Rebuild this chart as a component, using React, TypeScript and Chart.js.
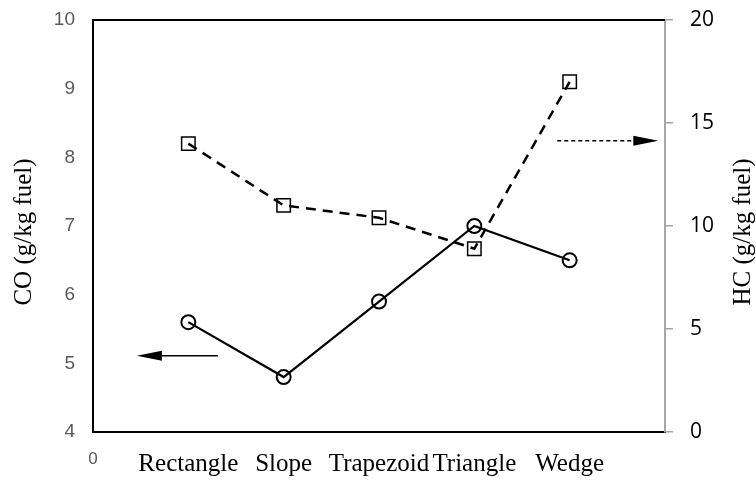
import React, { useEffect, useRef } from "react";
import { Chart, registerables } from "chart.js";

Chart.register(...registerables);

// ---- Data ----
const categories = ["Rectangle", "Slope", "Trapezoid", "Triangle", "Wedge"];
const coValues = [5.6, 4.8, 5.9, 7.0, 6.5]; // CO (g/kg fuel), left axis
const hcValues = [14.0, 11.0, 10.4, 8.9, 17.0]; // HC (g/kg fuel), right axis
const xOriginLabel = "0";
const leftTitle = "CO (g/kg fuel)";
const rightTitle = "HC (g/kg fuel)";
const coRange = [4, 10];
const hcRange = [0, 20];

// arrows in data units: [x0, y0] -> [x1, y1] on the given y axis
const arrows = [
  { axis: "y", from: [1.31, 5.11], to: [0.46, 5.11], dash: [] as number[] },
  { axis: "y1", from: [4.87, 14.14], to: [5.93, 14.14], dash: [4, 3] },
];

const overlayPlugin = {
  id: "overlay",
  afterDraw(chart: any) {
    const { ctx, chartArea, scales } = chart;
    ctx.save();
    // top frame
    ctx.strokeStyle = "#000";
    ctx.lineWidth = 2;
    ctx.beginPath();
    ctx.moveTo(chartArea.left - 1, chartArea.top);
    ctx.lineTo(chartArea.right, chartArea.top);
    ctx.stroke();

    // axis titles (both read bottom-to-top)
    ctx.font = '25px "Liberation Serif"';
    ctx.fillStyle = "#000";
    ctx.textAlign = "center";
    ctx.textBaseline = "middle";
    const midY = (chartArea.top + chartArea.bottom) / 2 + 6;
    ctx.save();
    ctx.translate(24, midY);
    ctx.rotate(-Math.PI / 2);
    ctx.fillText(leftTitle, 0, 0);
    ctx.restore();
    ctx.save();
    ctx.translate(743, midY);
    ctx.rotate(-Math.PI / 2);
    ctx.fillText(rightTitle, 0, 0);
    ctx.restore();

    // arrows
    for (const a of arrows) {
      const ys = scales[a.axis];
      const x0 = scales.x.getPixelForValue(a.from[0]);
      const y0 = ys.getPixelForValue(a.from[1]);
      const x1 = scales.x.getPixelForValue(a.to[0]);
      const y1 = ys.getPixelForValue(a.to[1]);
      const ang = Math.atan2(y1 - y0, x1 - x0);
      const headLen = 25;
      const headW = 5;
      const bx = x1 - headLen * Math.cos(ang);
      const by = y1 - headLen * Math.sin(ang);
      ctx.strokeStyle = "#000";
      ctx.lineWidth = 1.5;
      ctx.setLineDash(a.dash);
      ctx.beginPath();
      ctx.moveTo(x0, y0);
      ctx.lineTo(bx, by);
      ctx.stroke();
      ctx.setLineDash([]);
      ctx.fillStyle = "#000";
      ctx.beginPath();
      ctx.moveTo(x1, y1);
      ctx.lineTo(bx - headW * Math.sin(ang), by + headW * Math.cos(ang));
      ctx.lineTo(bx + headW * Math.sin(ang), by - headW * Math.cos(ang));
      ctx.closePath();
      ctx.fill();
    }
    ctx.restore();
  },
};

export default function App() {
  const canvasRef = useRef<HTMLCanvasElement | null>(null);

  useEffect(() => {
    const canvas = canvasRef.current;
    if (!canvas) return;
    const chart = new Chart(canvas, {
      type: "line",
      data: {
        datasets: [
          {
            label: "CO",
            data: coValues.map((v, i) => ({ x: i + 1, y: v })),
            yAxisID: "y",
            borderColor: "#000",
            borderWidth: 2.2,
            pointStyle: "circle",
            pointRadius: 7,
            pointBorderWidth: 2,
            pointBorderColor: "#000",
            pointBackgroundColor: "rgba(0,0,0,0)",
            fill: false,
            tension: 0,
          },
          {
            label: "HC",
            data: hcValues.map((v, i) => ({ x: i + 1, y: v })),
            yAxisID: "y1",
            borderColor: "#000",
            borderWidth: 2.5,
            borderDash: [10, 7],
            pointStyle: "rect",
            pointRadius: 9.5,
            pointBorderWidth: 1.5,
            pointBorderColor: "#000",
            pointBackgroundColor: "rgba(0,0,0,0)",
            fill: false,
            tension: 0,
          },
        ],
      },
      options: {
        responsive: false,
        animation: false,
        layout: { autoPadding: false, padding: { top: 20, left: 0, right: 0, bottom: 0 } },
        plugins: {
          legend: { display: false },
          tooltip: { enabled: false },
        },
        scales: {
          x: {
            type: "linear",
            position: "bottom",
            min: 0,
            max: categories.length + 1,
            grid: { display: false, drawTicks: false },
            border: { color: "#000", width: 2 },
            afterFit: (s: any) => {
              s.height = 48;
              s.paddingLeft = 0;
              s.paddingRight = 0;
            },
            afterBuildTicks: (s: any) => {
              s.ticks = [0, 1, 2, 3, 4, 5].map((v) => ({ value: v }));
            },
            ticks: {
              autoSkip: false,
              maxRotation: 0,
              padding: 17,
              callback: (v: any) => (v === 0 ? xOriginLabel : categories[v - 1] ?? ""),
              color: (c: any) => (c.tick && c.tick.value === 0 ? "#595959" : "#000"),
              font: (c: any) =>
                c.tick && c.tick.value === 0
                  ? { family: '"Liberation Sans"', size: 17 }
                  : { family: '"Liberation Serif"', size: 25 },
            },
          },
          y: {
            type: "linear",
            position: "left",
            min: coRange[0],
            max: coRange[1],
            grid: { display: false, drawTicks: false },
            border: { color: "#000", width: 2 },
            afterFit: (s: any) => {
              s.width = 93;
              s.paddingTop = 0;
              s.paddingBottom = 0;
            },
            ticks: {
              stepSize: 1,
              padding: 18,
              color: "#595959",
              font: { family: '"Liberation Sans"', size: 19 },
            },
          },
          y1: {
            type: "linear",
            position: "right",
            min: hcRange[0],
            max: hcRange[1],
            grid: {
              display: true,
              drawOnChartArea: false,
              drawTicks: true,
              tickLength: 8,
              color: "#a6a6a6",
              lineWidth: 1.5,
            },
            border: { color: "#a6a6a6", width: 2 },
            afterFit: (s: any) => {
              s.width = 91;
              s.paddingTop = 0;
              s.paddingBottom = 0;
            },
            ticks: {
              stepSize: 5,
              padding: 17,
              color: "#000",
              font: { family: '"Open Sans"', size: 21 },
            },
          },
        },
      },
      plugins: [overlayPlugin],
    });
    return () => chart.destroy();
  }, []);

  return (
    <div style={{ position: "fixed", left: 0, top: 0, width: 756, height: 480, background: "#fff" }}>
      <canvas ref={canvasRef} width={756} height={480} style={{ width: 756, height: 480 }} />
    </div>
  );
}
